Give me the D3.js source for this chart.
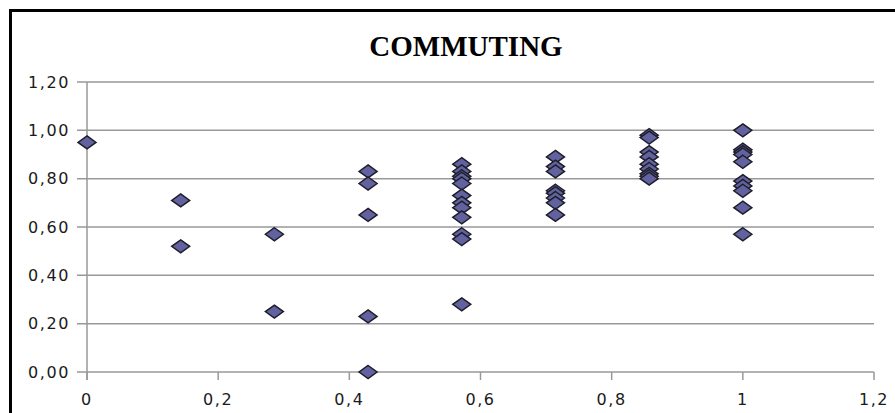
<!DOCTYPE html>
<html>
<head>
<meta charset="utf-8">
<script src="https://cdn.jsdelivr.net/npm/d3@7"></script>
<style>
  body { margin: 0; background: #fff; }
  svg { display: block; }
</style>
</head>
<body>
<div id="chart"></div>
<script>
const xGroups = [0, 1 / 7, 2 / 7, 3 / 7, 4 / 7, 5 / 7, 6 / 7, 1];
const yValues = [
  [0.95],
  [0.71, 0.52],
  [0.57, 0.25],
  [0.83, 0.78, 0.65, 0.23, 0.0],
  [0.86, 0.83, 0.81, 0.80, 0.78, 0.73, 0.70, 0.68, 0.64, 0.57, 0.55, 0.28],
  [0.89, 0.85, 0.83, 0.75, 0.74, 0.72, 0.70, 0.65],
  [0.98, 0.97, 0.91, 0.89, 0.86, 0.84, 0.82, 0.81, 0.80],
  [1.00, 0.92, 0.91, 0.90, 0.87, 0.79, 0.77, 0.75, 0.68, 0.57]
];
const xTicks = [0, 0.2, 0.4, 0.6, 0.8, 1, 1.2];
const yTicks = [0, 0.2, 0.4, 0.6, 0.8, 1.0, 1.2];
const title = "COMMUTING";

const points = xGroups.flatMap((x, i) => yValues[i].map(y => ({ x, y })));

const width = 895, height = 413;
const margin = { left: 87, right: 21, top: 82, bottom: 41 };

const svg = d3.select("#chart").append("svg")
  .attr("width", width)
  .attr("height", height);

// outer frame
svg.append("rect")
  .attr("x", 10.5).attr("y", 10.5)
  .attr("width", 900).attr("height", 430)
  .attr("fill", "none")
  .attr("stroke", "#000")
  .attr("stroke-width", 3);

const xScale = d3.scaleLinear().domain([0, 1.2]).range([margin.left, width - margin.right]);
const yScale = d3.scaleLinear().domain([0, 1.2]).range([height - margin.bottom, margin.top]);

const fmt = d => String(d).replace(".", ",");

// gridlines
svg.append("g")
  .selectAll("line")
  .data(yTicks)
  .enter()
  .append("line")
  .attr("x1", margin.left - 10)
  .attr("x2", xScale(1.2))
  .attr("y1", d => yScale(d))
  .attr("y2", d => yScale(d))
  .attr("stroke", "#999")
  .attr("stroke-width", 1.5);

// y axis line
svg.append("line")
  .attr("x1", xScale(0)).attr("x2", xScale(0))
  .attr("y1", yScale(1.2)).attr("y2", yScale(0) + 8)
  .attr("stroke", "#999")
  .attr("stroke-width", 1.5);

// x ticks
svg.append("g")
  .selectAll("line")
  .data(xTicks)
  .enter()
  .append("line")
  .attr("x1", d => xScale(d)).attr("x2", d => xScale(d))
  .attr("y1", yScale(0)).attr("y2", yScale(0) + 8)
  .attr("stroke", "#999")
  .attr("stroke-width", 1.5);

// y labels
svg.append("g")
  .selectAll("text")
  .data(yTicks)
  .enter()
  .append("text")
  .attr("x", margin.left - 17)
  .attr("y", d => yScale(d))
  .attr("dy", "0.36em")
  .attr("text-anchor", "end")
  .attr("font-family", "DejaVu Sans, Verdana, sans-serif")
  .attr("font-size", "16px")
  .attr("letter-spacing", "1.6px")
  .attr("fill", "#1a1a1a")
  .text(d => d.toFixed(2).replace(".", ","));

// x labels
svg.append("g")
  .selectAll("text")
  .data(xTicks)
  .enter()
  .append("text")
  .attr("x", d => xScale(d))
  .attr("y", yScale(0) + 27)
  .attr("dy", "0.36em")
  .attr("text-anchor", "middle")
  .attr("font-family", "DejaVu Sans, Verdana, sans-serif")
  .attr("font-size", "16px")
  .attr("letter-spacing", "1.6px")
  .attr("fill", "#1a1a1a")
  .text(d => fmt(d));

// diamond markers
const diamond = "M0,-6.5L9,0L0,6.5L-9,0Z";
svg.append("g")
  .selectAll("path")
  .data(points)
  .enter()
  .append("path")
  .attr("d", diamond)
  .attr("transform", d => `translate(${xScale(d.x)},${yScale(d.y)})`)
  .attr("fill", "#6262a0")
  .attr("stroke", "#1e1e2a")
  .attr("stroke-width", 1.5);

// title
svg.append("text")
  .attr("x", 466)
  .attr("y", 56)
  .attr("text-anchor", "middle")
  .attr("font-family", "Liberation Serif, Times New Roman, serif")
  .attr("font-weight", "bold")
  .attr("font-size", "29px")
  .attr("fill", "#000")
  .text(title);
</script>
</body>
</html>
